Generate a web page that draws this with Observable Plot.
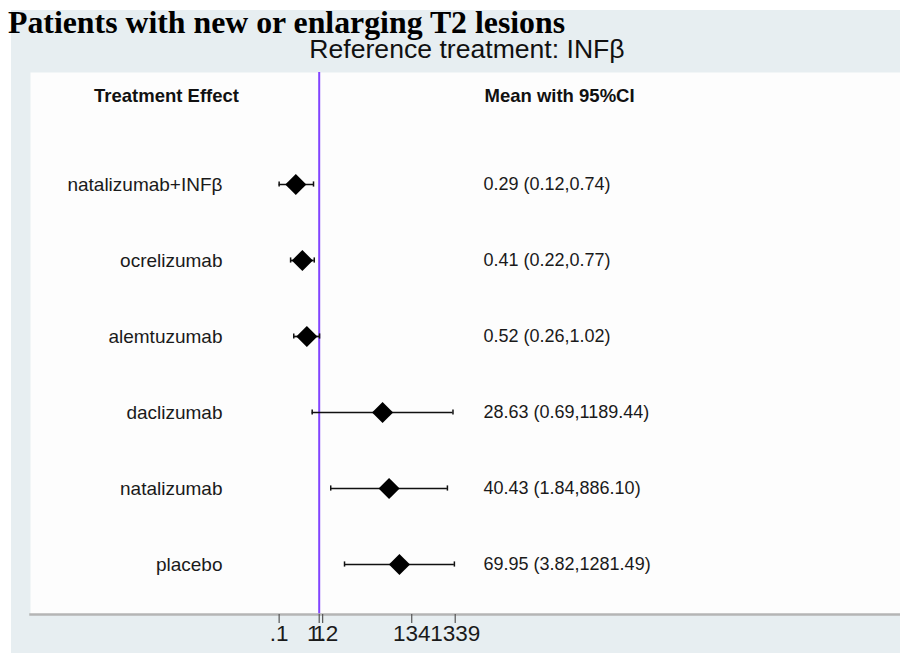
<!DOCTYPE html>
<html>
<head>
<meta charset="utf-8">
<script src="https://cdn.jsdelivr.net/npm/d3@7"></script>
<script src="https://cdn.jsdelivr.net/npm/@observablehq/plot@0.6"></script>
<style>
  html, body { margin: 0; padding: 0; background: #ffffff; }
  #page { position: relative; width: 900px; height: 653px; overflow: hidden; background: #ffffff; }
  #bg { position: absolute; left: 11px; top: 10px; right: 0; bottom: 0; background: #e7eef1; }
  #chart { position: absolute; left: 0; top: 0; }
  #title { position: absolute; left: 8px; top: 7px; font: bold 31.8px "Liberation Serif", "Times New Roman", serif; line-height: 31px; color: #000; white-space: nowrap; }
  #subtitle { position: absolute; left: 0; width: 934px; text-align: center; top: 36px; font: 26.6px "Liberation Sans", Arial, sans-serif; line-height: 26px; color: #111; white-space: nowrap; }
</style>
</head>
<body>
<div id="page">
  <div id="bg"></div>
  <div id="chart"></div>
  <div id="title">Patients with new or enlarging T2 lesions</div>
  <div id="subtitle">Reference treatment: INFβ</div>
</div>
<script>
const treatments = ["natalizumab+INFβ", "ocrelizumab", "alemtuzumab", "daclizumab", "natalizumab", "placebo"];
const means = [0.29, 0.41, 0.52, 28.63, 40.43, 69.95];
const lower = [0.12, 0.22, 0.26, 0.69, 1.84, 3.82];
const upper = [0.74, 0.77, 1.02, 1189.44, 886.10, 1281.49];
const tickValues = [0.12, 1, 1.2, 134, 1339];
const tickLabels = [".1", "1", "1.2", "134", "1339"];
const referenceValue = 1;
const headers = ["Treatment Effect", "Mean with 95%CI"];

const rows = treatments.map((name, i) => ({name, m: means[i], lo: lower[i], hi: upper[i]}));
const tickLabelOf = new Map(tickValues.map((v, i) => [v, tickLabels[i]]));
const fmt = d => `${d.m.toFixed(2)} (${d.lo.toFixed(2)},${d.hi.toFixed(2)})`;
const font = '"Liberation Sans", Arial, Helvetica, sans-serif';
const capHalf = 35.4;

const chart = Plot.plot({
  width: 900,
  height: 653,
  marginTop: 72,
  marginBottom: 39,
  marginLeft: 30,
  marginRight: 0,
  style: {fontFamily: font, background: "transparent", overflow: "visible"},
  x: {type: "log", domain: [0.1, 1000], range: [275.2, 449.2]},
  y: {type: "band", domain: treatments, padding: 0, insetTop: 71.6, insetBottom: 9.6, axis: null},
  marks: [
    Plot.frame({fill: "#fdfdfd", stroke: "none"}),
    Plot.ruleX([referenceValue], {stroke: "#8244ff", strokeWidth: 2}),
    Plot.frame({anchor: "bottom", stroke: "#b5b5b5", strokeWidth: 2.5}),
    Plot.axisX({
      ticks: tickValues,
      tickFormat: d => tickLabelOf.get(d),
      tickSize: 9,
      tickPadding: 2,
      fontSize: 22.5,
      stroke: "#555",
      fill: "#1a1a1a",
      strokeWidth: 1.2
    }),
    Plot.ruleY(rows, {y: "name", x1: "lo", x2: "hi", stroke: "#111", strokeWidth: 1.7}),
    Plot.tickX(rows, {x: "lo", y: "name", insetTop: capHalf, insetBottom: capHalf, stroke: "#111", strokeWidth: 1.5}),
    Plot.tickX(rows, {x: "hi", y: "name", insetTop: capHalf, insetBottom: capHalf, stroke: "#111", strokeWidth: 1.5}),
    Plot.dot(rows, {x: "m", y: "name", symbol: "diamond2", r: 9.5, fill: "#000", stroke: "none"}),
    Plot.text(rows, {y: "name", text: "name", frameAnchor: "left", dx: 192, textAnchor: "end", fontSize: 19, fill: "#1a1a1a"}),
    Plot.text(rows, {y: "name", text: fmt, frameAnchor: "left", dx: 453, textAnchor: "start", fontSize: 18, fill: "#1a1a1a"}),
    Plot.text([headers[0]], {text: d => d, frameAnchor: "top-left", dx: 136, dy: 16, textAnchor: "middle", fontSize: 18.5, fontWeight: "bold", fill: "#111"}),
    Plot.text([headers[1]], {text: d => d, frameAnchor: "top-left", dx: 454, dy: 16, textAnchor: "start", fontSize: 18.5, fontWeight: "bold", fill: "#111"})
  ]
});
document.getElementById("chart").appendChild(chart);
</script>
</body>
</html>
